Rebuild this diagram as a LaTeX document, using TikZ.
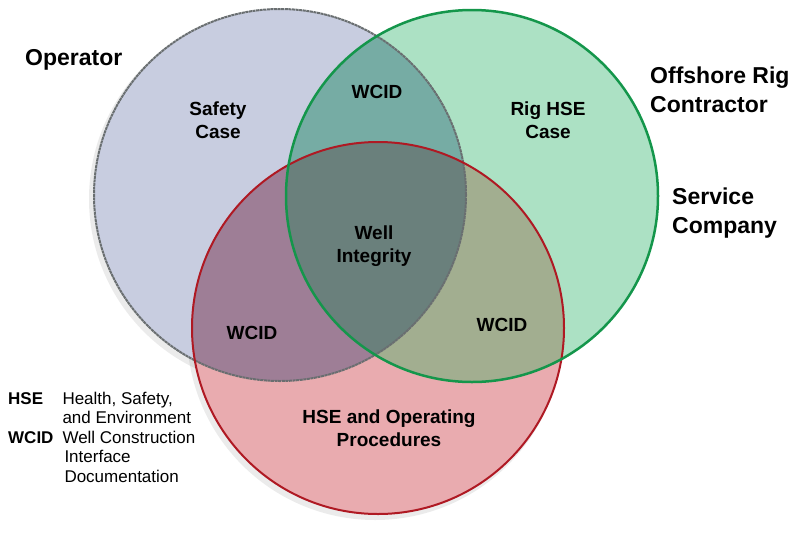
\documentclass[tikz,border=0pt]{standalone}
\usepackage{fontspec}
\setmainfont{Liberation Sans}
\usepackage{xcolor}
\usetikzlibrary{calc}
\definecolor{opfill}{RGB}{200,205,224}
\definecolor{rigfill}{RGB}{172,225,196}
\definecolor{srvfill}{RGB}{233,171,175}
\definecolor{oprig}{RGB}{118,172,164}
\definecolor{opsrv}{RGB}{158,126,150}
\definecolor{rigsrv}{RGB}{162,174,144}
\definecolor{allthree}{RGB}{106,128,124}
\definecolor{opline}{RGB}{105,110,112}
\definecolor{rigline}{RGB}{20,150,75}
\definecolor{srvline}{RGB}{175,25,35}

\begin{document}
\begin{tikzpicture}[x=1pt,y=-1pt,
    party/.style={font=\fontsize{23}{29}\selectfont\bfseries,align=left,inner sep=0pt},
    area/.style={font=\fontsize{19}{23}\selectfont\bfseries,align=center,inner sep=0pt},
    ring/.style={line width=2pt}]
    \useasboundingbox (0,0) rectangle (800,536);

    % Circle centres
    \coordinate (op) at (280,195);
    \coordinate (rig) at (472,196);
    \coordinate (srv) at (378,328);

    % Soft shadow
    \fill[black,opacity=0.08] ($(srv)+(-3,4)$) circle (188pt);
    \fill[black,opacity=0.08] ($(op)+(-3,4)$) circle (188pt);

    % Base fills
    \fill[opfill] (op) circle (186pt);
    \fill[rigfill] (rig) circle (186pt);
    \fill[srvfill] (srv) circle (186pt);

    % Overlaps
    \begin{scope}
        \clip (rig) circle (186pt);
        \fill[rigsrv] (srv) circle (186pt);
    \end{scope}
    \begin{scope}
        \clip (op) circle (186pt);
        \fill[oprig] (rig) circle (186pt);
        \fill[opsrv] (srv) circle (186pt);
        \clip (rig) circle (186pt);
        \fill[allthree] (srv) circle (186pt);
    \end{scope}

    % Outlines
    \draw[ring,opline,dash pattern=on 3pt off 0.6pt] (op) circle (186pt);
    \draw[ring,srvline] (srv) circle (186pt);
    \draw[ring,rigline,line width=2.5pt] (rig) circle (186pt);

    % Parties
    \node[party,anchor=west] (operator) at (25,60) {Operator};
    \node[party,anchor=west] (contractor) at (650,90) {Offshore Rig\\Contractor};
    \node[party,anchor=west] (company) at (672,213) {Service\\Company};

    % Areas
    \node[area] (safety) at (218,120) {Safety\\Case};
    \node[area] (wcidtop) at (377,92) {WCID};
    \node[area] (righse) at (548,120) {Rig HSE\\Case};
    \node[area] (integrity) at (374,246) {Well\\Integrity};
    \node[area] (wcidleft) at (252,333) {WCID};
    \node[area] (wcidright) at (502,325) {WCID};
    \node[area] (procedures) at (389,428) {HSE and Operating\\Procedures};

    % Legend
    \node[anchor=base west,inner sep=0pt,font=\fontsize{17}{19.5}\selectfont] (legend) at (8,404) {%
        \begin{tabular}[t]{@{}l@{\hspace{9pt}}l@{}}
            \bfseries HSE & Health, Safety,\\
                          & and Environment\\
            \bfseries WCID & Well Construction\\
                           & \hspace{2pt}Interface\\
                           & \hspace{2pt}Documentation
        \end{tabular}};
\end{tikzpicture}
\end{document}
